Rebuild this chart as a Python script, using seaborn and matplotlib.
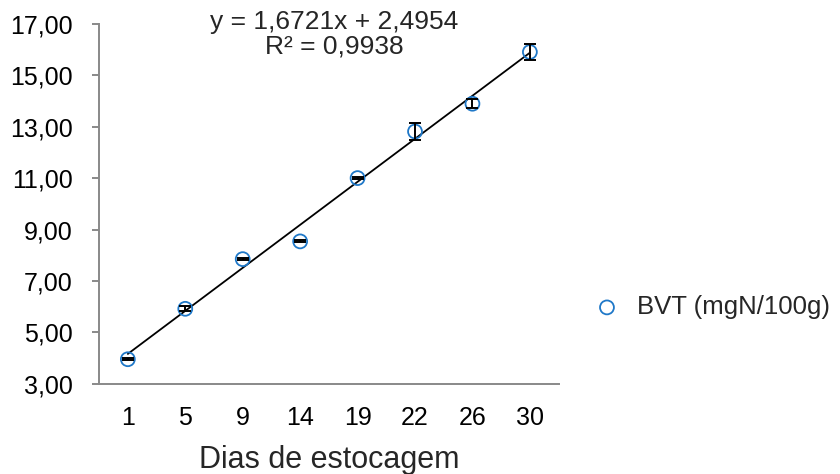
import matplotlib
matplotlib.use("Agg")
import matplotlib.pyplot as plt
import numpy as np
import seaborn as sns

# storage days (categorical x axis) and measured BVT values
days = ['1', '5', '9', '14', '19', '22', '26', '30']
bvt = [3.96, 5.92, 7.85, 8.54, 11.00, 12.81, 13.89, 15.90]
bvt_err = [0.03, 0.10, 0.04, 0.04, 0.04, 0.32, 0.18, 0.32]

# excel trendline coefficients (x = category index)
slope = 1.6721
intercept = 2.4954
r2 = 0.9938

blue = '#1f78c8'
grey = '#898989'

sns.set_style('white')
plt.rcParams['font.family'] = ['Liberation Sans', 'DejaVu Sans']

fig = plt.figure(figsize=(8.4, 4.74), dpi=100)
ax = fig.add_axes([0.118, 0.19, 0.547, 0.76])

pos = np.arange(1, len(days) + 1)
sns.scatterplot(x=pos, y=bvt, ax=ax, marker='o', s=100,
                facecolor='none', edgecolor=blue, linewidth=1.3,
                label='BVT (mgN/100g)', zorder=3)
ax.errorbar(pos, bvt, yerr=bvt_err, fmt='none', ecolor='black',
            elinewidth=1.4, capsize=4.5, capthick=1.4, zorder=4)

trend = slope * pos + intercept
sns.lineplot(x=pos, y=trend, ax=ax, color='black', linewidth=1.3, zorder=2)

ax.set_xlim(0.5, len(days) + 0.5)
ax.set_ylim(3, 17)
yt = np.arange(3, 18, 2)
ax.set_yticks(yt)
ax.set_yticklabels([('%.2f' % v).replace('.', ',') for v in yt])
ax.set_xticks(pos)
ax.set_xticklabels(days)

for side in ['top', 'right']:
    ax.spines[side].set_visible(False)
for side in ['left', 'bottom']:
    ax.spines[side].set_color(grey)
    ax.spines[side].set_linewidth(1.4)

ax.tick_params(axis='y', left=True, length=5, width=1.4, color=grey,
               pad=14, labelsize=18, labelcolor='black')
ax.tick_params(axis='x', bottom=False, length=0, pad=16,
               labelsize=18, labelcolor='black')
ax.set_xlabel('Dias de estocagem', fontsize=22, labelpad=11)
ax.set_ylabel('')

eq = 'y = %sx + %s\nR² = %s' % (str(slope).replace('.', ','),
                                 str(intercept).replace('.', ','),
                                 str(r2).replace('.', ','))
fig.text(0.398, 0.928, eq, ha='center', va='center', fontsize=19,
         linespacing=1.05)

leg = ax.legend(loc='center left', bbox_to_anchor=(0.692, 0.352),
                bbox_transform=fig.transFigure, frameon=False, fontsize=18.5,
                handlelength=1.0, handletextpad=0.66, borderpad=0)

plt.savefig('out.png', dpi=100)
